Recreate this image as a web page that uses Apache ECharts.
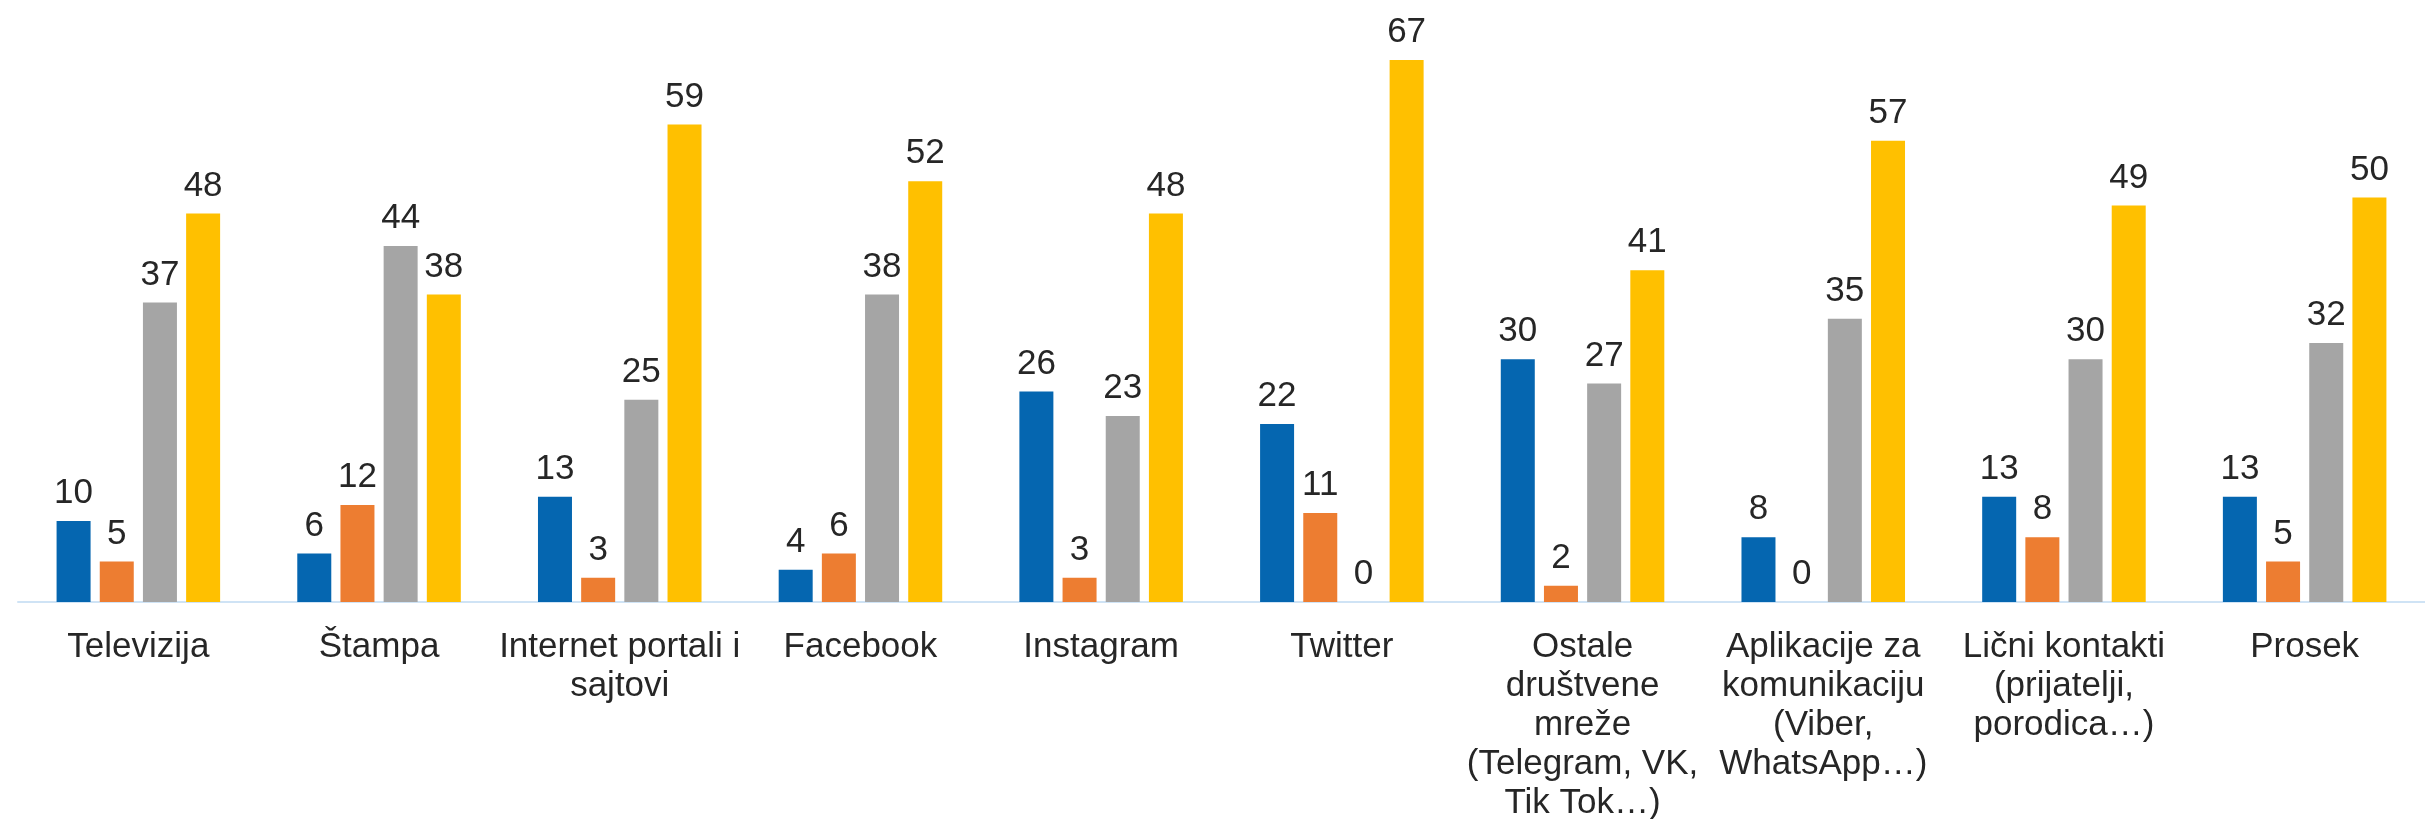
<!DOCTYPE html>
<html><head><meta charset="utf-8">
<script src="https://cdn.jsdelivr.net/npm/echarts@6/dist/echarts.min.js"></script>
<style>html,body{margin:0;padding:0;background:#fff}#c{width:2425px;height:819px}</style>
</head><body><div id="c"></div>
<script>
const categories = ["Televizija","Štampa","Internet portali i\nsajtovi","Facebook","Instagram","Twitter","Ostale\ndruštvene\nmreže\n(Telegram, VK,\nTik Tok…)","Aplikacije za\nkomunikaciju\n(Viber,\nWhatsApp…)","Lični kontakti\n(prijatelji,\nporodica…)","Prosek"];
const series1 = [10,6,13,4,26,22,30,8,13,13];
const series2 = [5,12,3,6,3,11,2,0,8,5];
const series3 = [37,44,25,38,23,0,27,35,30,32];
const series4 = [48,38,59,52,48,67,41,57,49,50];
const colors = ["#0566B0","#ED7D31","#A5A5A5","#FFC000"];

const chart = echarts.init(document.getElementById('c'));
const mk = (name, data, color) => ({
  name, type:'bar', data, barWidth:34, barGap:'27%',
  itemStyle:{color},
  label:{show:true, position:'top', distance:10, fontSize:35, color:'#262626', fontFamily:'Liberation Sans'}
});
chart.setOption({
  animation:false,
  grid:{left:18, right:0, top:0, bottom:217, containLabel:false, outerBoundsMode:'none'},
  xAxis:{type:'category', data:categories,
    axisLine:{show:true, lineStyle:{color:'#CFE3F5', width:2}},
    axisTick:{show:false},
    axisLabel:{interval:0, fontSize:35, lineHeight:39, color:'#262626', fontFamily:'Liberation Sans', margin:26}
  },
  yAxis:{type:'value', min:0, max:74.4, show:false, splitLine:{show:false}},
  series:[mk('s1',series1,colors[0]),mk('s2',series2,colors[1]),mk('s3',series3,colors[2]),mk('s4',series4,colors[3])]
});
</script></body></html>
